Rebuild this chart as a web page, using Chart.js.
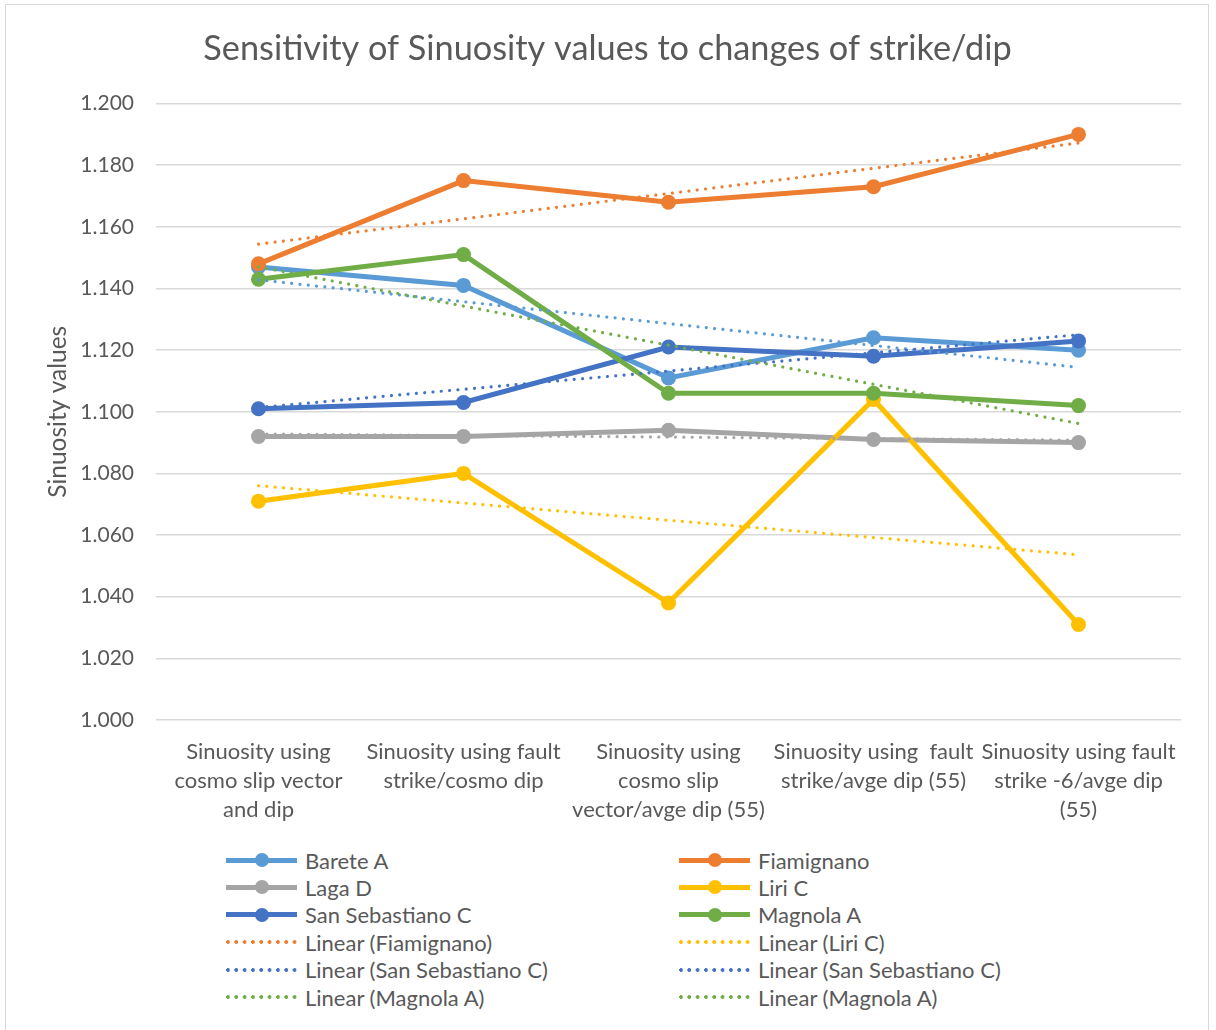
<!DOCTYPE html>
<html>
<head>
<meta charset="utf-8">
<script src="https://cdn.jsdelivr.net/npm/chart.js@4.4.1/dist/chart.umd.min.js"></script>
<style>
  body { margin: 0; background: #fff; font-family: Lato, "Open Sans", sans-serif; }
  #frame { position: absolute; left: 5px; top: 4px; width: 1204px; height: 1040px; border: 1.5px solid #d9d9d9; box-sizing: border-box; }
  #chartBox { position: absolute; left: 6px; top: 5px; width: 1203px; height: 830px; }
  .legend-item { position: absolute; height: 26px; display: flex; align-items: center; color: #595959; font-size: 22px; white-space: nowrap; }
  .swatch { position: relative; width: 71px; height: 14px; margin-right: 8px; flex: none; }
  .swatch .bar { position: absolute; left: 0; right: 0; top: 4.5px; height: 5px; }
  .swatch .dot { position: absolute; left: 29px; top: 0; width: 14px; height: 14px; border-radius: 50%; }
  .swatch .dots { position: absolute; left: 0; right: 0; top: 5px; height: 4px; background-size: 8.33px 4px; background-repeat: repeat-x; }
</style>
</head>
<body>
<div id="frame"></div>
<div id="chartBox"><canvas id="sinuosityChart"></canvas></div>
<div id="legend"></div>
<script>
// -------------------- Data --------------------
const categories = [
  ["Sinuosity using", "cosmo slip vector", "and dip"],
  ["Sinuosity using fault", "strike/cosmo dip"],
  ["Sinuosity using", "cosmo slip", "vector/avge dip (55)"],
  ["Sinuosity using  fault", "strike/avge dip (55)"],
  ["Sinuosity using fault", "strike -6/avge dip", "(55)"]
];

const bareteA        = [1.147, 1.141, 1.111, 1.124, 1.120];
const fiamignano     = [1.148, 1.175, 1.168, 1.173, 1.190];
const lagaD          = [1.092, 1.092, 1.094, 1.091, 1.090];
const liriC          = [1.071, 1.080, 1.038, 1.104, 1.031];
const sanSebastianoC = [1.101, 1.103, 1.121, 1.118, 1.123];
const magnolaA       = [1.143, 1.151, 1.106, 1.106, 1.102];

const seriesNames  = ["Barete A", "Fiamignano", "Laga D", "Liri C", "San Sebastiano C", "Magnola A"];
const seriesValues = [bareteA, fiamignano, lagaD, liriC, sanSebastianoC, magnolaA];
const seriesColors = ["#5B9BD5", "#ED7D31", "#A5A5A5", "#FFC000", "#4472C4", "#70AD47"];

const yTicks = { min: 1.0, max: 1.2, step: 0.02 };

// legend entries as listed under the chart
const legendNames = [
  "Barete A", "Fiamignano", "Laga D", "Liri C", "San Sebastiano C", "Magnola A",
  "Linear (Fiamignano)", "Linear (Liri C)", "Linear (San Sebastiano C)",
  "Linear (San Sebastiano C)", "Linear (Magnola A)", "Linear (Magnola A)"
];
const legendColors = [
  "#5B9BD5", "#ED7D31", "#A5A5A5", "#FFC000", "#4472C4", "#70AD47",
  "#ED7D31", "#FFC000", "#4472C4", "#4472C4", "#70AD47", "#70AD47"
];
const legendDotted = [false, false, false, false, false, false, true, true, true, true, true, true];

// -------------------- Helpers --------------------
const fontFamily = "Lato, 'Open Sans', sans-serif";
const textColor = "#595959";

// least squares straight line through a series, evaluated at each category
function linearTrend(values) {
  const n = values.length;
  let sx = 0, sy = 0, sxy = 0, sxx = 0;
  values.forEach((v, i) => { const x = i + 1; sx += x; sy += v; sxy += x * v; sxx += x * x; });
  const slope = (n * sxy - sx * sy) / (n * sxx - sx * sx);
  const intercept = (sy - slope * sx) / n;
  return values.map((v, i) => intercept + slope * (i + 1));
}

// -------------------- Datasets --------------------
const datasets = [];
seriesNames.forEach((name, i) => {
  datasets.push({
    label: name,
    data: seriesValues[i],
    borderColor: seriesColors[i],
    backgroundColor: seriesColors[i],
    borderWidth: 5,
    pointRadius: 7.5,
    pointBorderWidth: 0,
    pointBackgroundColor: seriesColors[i],
    tension: 0,
    order: 20 - i
  });
});
seriesNames.forEach((name, i) => {
  datasets.push({
    label: "Linear (" + name + ")",
    data: linearTrend(seriesValues[i]),
    borderColor: seriesColors[i],
    borderWidth: 3.2,
    borderDash: [0.01, 8.33],
    borderCapStyle: "round",
    pointRadius: 0,
    tension: 0,
    order: 10 - i
  });
});

// -------------------- Chart --------------------
new Chart(document.getElementById("sinuosityChart"), {
  type: "line",
  data: { labels: categories, datasets },
  options: {
    responsive: true,
    maintainAspectRatio: false,
    devicePixelRatio: 1,
    animation: false,
    // equal side padding keeps the title centred on the whole box
    layout: { padding: { left: 28, right: 28, top: 0, bottom: 0 } },
    plugins: {
      legend: { display: false },
      tooltip: { enabled: false },
      title: {
        display: true,
        text: "Sensitivity of Sinuosity values to changes of strike/dip",
        color: textColor,
        font: { family: fontFamily, size: 34.3, weight: "normal", lineHeight: 1.2 },
        padding: { top: 23, bottom: 34.4 }
      }
    },
    scales: {
      x: {
        offset: true,
        border: { display: false },
        grid: { display: false, drawTicks: false },
        ticks: {
          color: textColor,
          font: { family: fontFamily, size: 22, lineHeight: 1.32 },
          padding: 17,
          autoSkip: false,
          maxRotation: 0,
          minRotation: 0
        },
        afterFit: scale => { scale.height = 115; }
      },
      y: {
        min: yTicks.min,
        max: yTicks.max,
        border: { display: false },
        grid: { color: "#d9d9d9", lineWidth: 1.5, drawTicks: false },
        ticks: {
          stepSize: yTicks.step,
          color: textColor,
          font: { family: fontFamily, size: 21 },
          padding: 22,
          callback: v => v.toFixed(3)
        },
        title: {
          display: true,
          text: "Sinuosity values",
          color: textColor,
          font: { family: fontFamily, size: 24.5, weight: "normal", lineHeight: 1.2 },
          padding: { top: 9, bottom: 0 }
        },
        afterFit: scale => { scale.width = 122; }
      }
    }
  }
});

// -------------------- Legend --------------------
const legendCols = [226, 679];
const legendRowTop = 847;
const legendRowStep = 27.4;
const legendEl = document.getElementById("legend");
legendNames.forEach((name, i) => {
  const item = document.createElement("div");
  item.className = "legend-item";
  item.style.left = legendCols[i % 2] + "px";
  item.style.top = (legendRowTop + Math.floor(i / 2) * legendRowStep) + "px";
  const swatch = document.createElement("div");
  swatch.className = "swatch";
  if (legendDotted[i]) {
    swatch.innerHTML = `<div class="dots" style="background-image: radial-gradient(circle at 2px 2px, ${legendColors[i]} 1.7px, transparent 2.1px)"></div>`;
  } else {
    swatch.innerHTML = `<div class="bar" style="background:${legendColors[i]}"></div><div class="dot" style="background:${legendColors[i]}"></div>`;
  }
  item.appendChild(swatch);
  const label = document.createElement("span");
  label.textContent = name;
  item.appendChild(label);
  legendEl.appendChild(item);
});
</script>
</body>
</html>
